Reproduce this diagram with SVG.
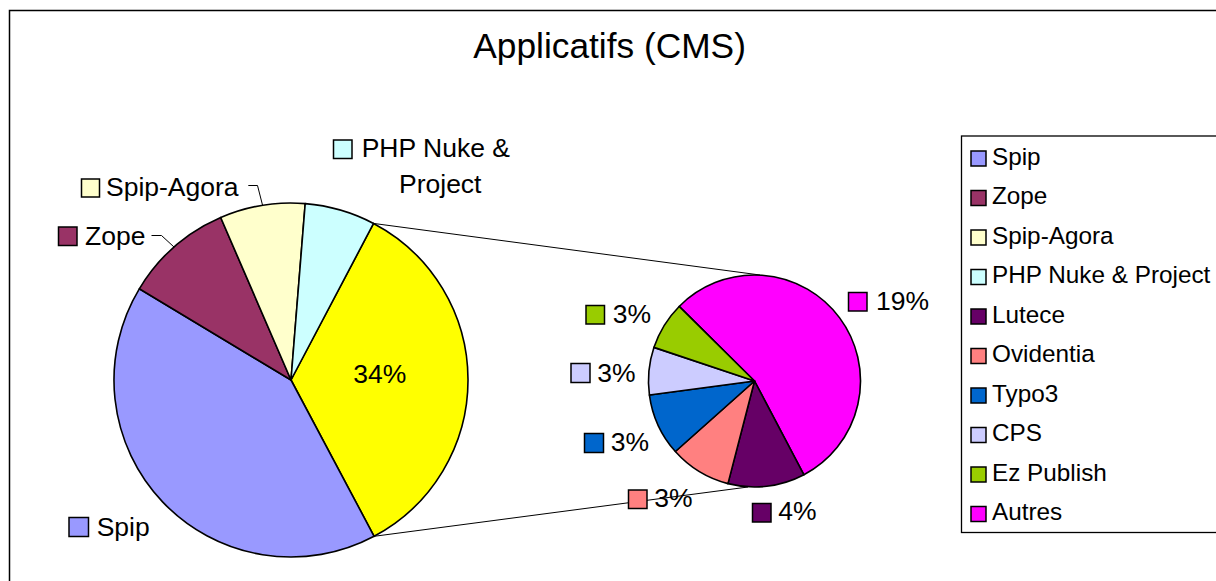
<svg xmlns="http://www.w3.org/2000/svg" width="1216" height="581" viewBox="0 0 1216 581">
<style>
.t{font-family:"Liberation Sans",Arial,sans-serif;fill:#000}
.lbl{font-size:26.5px}
.leg{font-size:24.3px}
.sl{stroke:#000;stroke-width:1.6;stroke-linejoin:round}
.bx{stroke:#000;stroke-width:1.5}
.con{stroke:#000;stroke-width:1;fill:none}
</style>
<rect x="0" y="0" width="1216" height="581" fill="#fff"/>
<rect id="frame" x="9.5" y="10.5" width="1230" height="600" fill="#fff" stroke="#000" stroke-width="1.5"/>
<text id="title" class="t" x="473.3" y="58.3" font-size="35.3">Applicatifs (CMS)</text>

<g id="connectors">
<line class="con" x1="373.55" y1="223.43" x2="760" y2="275"/>
<line class="con" x1="374.1" y1="536.3" x2="748" y2="487"/>
<polyline class="con" points="248.3,185.5 257.5,185.5 262.5,205"/>
<polyline class="con" points="151.5,235.5 161.5,235.5 174,247"/>
</g>

<g id="main-pie">
<path id="slice-cms" class="sl" fill="#FFFF00" d="M291,380 L373.55,223.43 A177,177 0 0 1 374.1,536.3 Z"/>
<path id="slice-spip" class="sl" fill="#9999FF" d="M291,380 L374.1,536.3 A177,177 0 0 1 139.3,288.8 Z"/>
<path id="slice-zope" class="sl" fill="#993366" d="M291,380 L139.3,288.8 A177,177 0 0 1 220.7,217.5 Z"/>
<path id="slice-agora" class="sl" fill="#FFFFCC" d="M291,380 L220.7,217.5 A177,177 0 0 1 305.2,203.6 Z"/>
<path id="slice-php" class="sl" fill="#CCFFFF" d="M291,380 L305.2,203.6 A177,177 0 0 1 373.55,223.43 Z"/>
</g>

<g id="small-pie">
<path id="slice-autres" class="sl" fill="#FF00FF" d="M754.5,381 L679.16,306.44 A106,106 0 1 1 803.94,474.77 Z"/>
<path id="slice-lutece" class="sl" fill="#660066" d="M754.5,381 L803.94,474.77 A106,106 0 0 1 727.96,483.62 Z"/>
<path id="slice-ovidentia" class="sl" fill="#FF8080" d="M754.5,381 L727.96,483.62 A106,106 0 0 1 675.36,451.51 Z"/>
<path id="slice-typo3" class="sl" fill="#0066CC" d="M754.5,381 L675.36,451.51 A106,106 0 0 1 649.43,395.02 Z"/>
<path id="slice-cps" class="sl" fill="#CCCCFF" d="M754.5,381 L649.43,395.02 A106,106 0 0 1 653.98,347.37 Z"/>
<path id="slice-ez" class="sl" fill="#99CC00" d="M754.5,381 L653.98,347.37 A106,106 0 0 1 679.16,306.44 Z"/>
</g>

<g id="label-php"><rect class="bx" x="333.5" y="140" width="18.5" height="18.5" fill="#CCFFFF"/><text class="t lbl" x="361.7" y="157.3">PHP Nuke &amp;</text><text class="t lbl" x="399" y="193.3">Project</text></g>
<g id="label-agora"><rect class="bx" x="81.5" y="179" width="18" height="18" fill="#FFFFCC"/><text class="t lbl" x="106" y="196">Spip-Agora</text></g>
<g id="label-zope"><rect class="bx" x="58.5" y="227" width="18.5" height="18.5" fill="#993366"/><text class="t lbl" x="85" y="245">Zope</text></g>
<g id="label-spip"><rect class="bx" x="69" y="517.5" width="19.5" height="19" fill="#9999FF"/><text class="t lbl" x="96.7" y="535.5">Spip</text></g>
<g id="label-cms"><text class="t lbl" x="353.3" y="383.3">34%</text></g>

<g id="label-autres"><rect class="bx" x="848.5" y="292.5" width="18.5" height="18.5" fill="#FF00FF"/><text class="t lbl" x="876" y="310">19%</text></g>
<g id="label-ez"><rect class="bx" x="586" y="305.5" width="18.5" height="18.5" fill="#99CC00"/><text class="t lbl" x="612.7" y="323.3">3%</text></g>
<g id="label-cps"><rect class="bx" x="571" y="363.5" width="19" height="19" fill="#CCCCFF"/><text class="t lbl" x="597.3" y="381.7">3%</text></g>
<g id="label-typo3"><rect class="bx" x="584.5" y="433.5" width="19" height="19" fill="#0066CC"/><text class="t lbl" x="610.7" y="451">3%</text></g>
<g id="label-ovidentia"><rect class="bx" x="628.5" y="490" width="18.5" height="18.5" fill="#FF8080"/><text class="t lbl" x="654.3" y="507.3">3%</text></g>
<g id="label-lutece"><rect class="bx" x="752.5" y="503.5" width="18.5" height="18.5" fill="#660066"/><text class="t lbl" x="778.3" y="520">4%</text></g>

<g id="legend">
<rect x="961.5" y="136" width="270" height="396.5" fill="#fff" stroke="#000" stroke-width="1.3"/>
<g id="leg-spip"><rect class="bx" x="971" y="151" width="15" height="15" fill="#9999FF"/><text class="t leg" x="992" y="164.5">Spip</text></g>
<g id="leg-zope"><rect class="bx" x="971" y="190.5" width="15" height="15" fill="#993366"/><text class="t leg" x="992" y="204">Zope</text></g>
<g id="leg-agora"><rect class="bx" x="971" y="230" width="15" height="15" fill="#FFFFCC"/><text class="t leg" x="992" y="243.5">Spip-Agora</text></g>
<g id="leg-php"><rect class="bx" x="971" y="269.5" width="15" height="15" fill="#CCFFFF"/><text class="t leg" x="992" y="283">PHP Nuke &amp; Project</text></g>
<g id="leg-lutece"><rect class="bx" x="971" y="309" width="15" height="15" fill="#660066"/><text class="t leg" x="992" y="322.5">Lutece</text></g>
<g id="leg-ovidentia"><rect class="bx" x="971" y="348.5" width="15" height="15" fill="#FF8080"/><text class="t leg" x="992" y="362">Ovidentia</text></g>
<g id="leg-typo3"><rect class="bx" x="971" y="388" width="15" height="15" fill="#0066CC"/><text class="t leg" x="992" y="401.5">Typo3</text></g>
<g id="leg-cps"><rect class="bx" x="971" y="427.5" width="15" height="15" fill="#CCCCFF"/><text class="t leg" x="992" y="441">CPS</text></g>
<g id="leg-ez"><rect class="bx" x="971" y="467" width="15" height="15" fill="#99CC00"/><text class="t leg" x="992" y="480.5">Ez Publish</text></g>
<g id="leg-autres"><rect class="bx" x="971" y="506.5" width="15" height="15" fill="#FF00FF"/><text class="t leg" x="992" y="520">Autres</text></g>
</g>
</svg>
